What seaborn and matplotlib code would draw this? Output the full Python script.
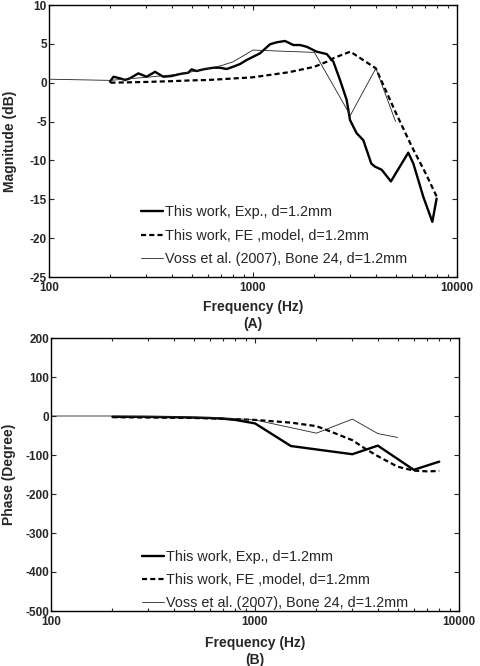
import numpy as np
import pandas as pd
import matplotlib
matplotlib.use("Agg")
import matplotlib.pyplot as plt
from matplotlib.ticker import FixedLocator, FixedFormatter, LogLocator, NullFormatter
import seaborn as sns

# ---------------- data ----------------
# Panel A: magnitude (dB)
exp_mag_f = [199, 207, 223, 236, 249, 274, 301, 331, 363, 399, 438, 482, 500, 529, 571, 639,
             689, 743, 800, 863, 930, 1082, 1211, 1306, 1435, 1577, 1700, 1833, 2052, 2297,
             2477, 2670, 2877, 2989, 3221, 3474, 3800, 3963, 4275, 4742, 5770, 6109, 6840,
             7570, 7945]
exp_mag_db = [0.13, 0.77, 0.56, 0.35, 0.56, 1.2, 0.77, 1.4, 0.77, 0.86, 1.12, 1.29, 1.72, 1.5,
              1.72, 1.93, 1.93, 1.76, 2.06, 2.4, 2.92, 3.78, 4.94, 5.2, 5.37, 4.85, 4.85, 4.63,
              3.99, 3.69, 2.7, 0.35, -2.2, -4.8, -6.5, -7.4, -10.4, -10.8, -11.2, -12.7, -9.0,
              -10.4, -14.7, -17.9, -14.9]

fe_mag_f = [200, 300, 400, 500, 600, 700, 800, 900, 1000, 1500, 2000, 2300, 2500, 3000, 4000,
            5000, 6000, 7000, 8000]
fe_mag_db = [0.0, 0.1, 0.2, 0.3, 0.35, 0.45, 0.55, 0.62, 0.7, 1.35, 2.05, 2.7, 3.2, 4.0, 1.85,
             -3.8, -8.2, -11.6, -14.8]

voss_mag_f = [100, 200, 300, 400, 500, 600, 700, 800, 1000, 2000, 3000, 4000, 5000]
voss_mag_db = [0.45, 0.3, 0.7, 1.0, 1.4, 1.8, 2.2, 2.7, 4.2, 3.9, -4.2, 1.85, -5.0]

# Panel B: phase (degree)
exp_ph_f = [200, 300, 400, 500, 600, 700, 800, 1000, 1500, 3000, 4000, 6000, 8000]
exp_ph_deg = [-2, -2, -3, -4, -5, -7, -10, -19, -77, -98, -76, -138, -117]

fe_ph_f = [200, 300, 500, 700, 1000, 1500, 2000, 2300, 3000, 3500, 4000, 5000, 6000, 7000, 8000]
fe_ph_deg = [-3, -4, -5, -7, -10, -17, -26, -38, -62, -85, -103, -130, -140, -142, -141]

voss_ph_f = [100, 200, 300, 400, 500, 600, 700, 800, 1000, 2000, 3000, 4000, 5000]
voss_ph_deg = [0, 0, -1, -2, -3, -4, -5, -7, -10, -44, -8, -45, -55]

labels = ["This work, Exp., d=1.2mm",
          "This work, FE ,model, d=1.2mm",
          "Voss et al. (2007), Bone 24, d=1.2mm"]

mag_ticks = [-25, -20, -15, -10, -5, 0, 5, 10]
ph_ticks = [-500, -400, -300, -200, -100, 0, 100, 200]
x_ticks = [100, 1000, 10000]
x_ticklabels = ["100", "1000", "10000"]

# ---------------- style ----------------
sns.set_style("ticks")
plt.rcParams["font.family"] = ["Liberation Sans", "DejaVu Sans"]
plt.rcParams["axes.linewidth"] = 1.0

fig = plt.figure(figsize=(4.8, 6.66), dpi=100)
axA = fig.add_axes([49/480, 1-277/666, 408/480, 272/666])
axB = fig.add_axes([51/480, 1-611/666, 408/480, 273/666])

def draw(ax, series, yticks, ylim, ylabel, panel, leg_anchor, ylabelpad, xlabelpad):
    styles = [dict(color="black", linewidth=1.7, linestyle="-"),
              dict(color="black", linewidth=1.6, linestyle=(0, (2.3, 1.4))),
              dict(color="#222222", linewidth=0.6, linestyle="-")]
    for (f, v), lab, st in zip(series, labels, styles):
        df = pd.DataFrame({"f": f, "v": v})
        sns.lineplot(data=df, x="f", y="v", ax=ax, estimator=None, sort=False,
                     label=lab, **st)
    ax.set_xscale("log")
    ax.set_xlim(100, 10000)
    ax.set_ylim(*ylim)
    ax.xaxis.set_major_locator(FixedLocator(x_ticks))
    ax.xaxis.set_major_formatter(FixedFormatter(x_ticklabels))
    ax.xaxis.set_minor_locator(LogLocator(base=10, subs=np.arange(2, 10)))
    ax.xaxis.set_minor_formatter(NullFormatter())
    ax.set_yticks(yticks)
    ax.set_yticklabels([str(t) for t in yticks])
    ax.tick_params(which="both", direction="in", top=True, right=True,
                   labelsize=8.5, pad=1.5, width=0.8)
    ax.tick_params(axis="x", which="major", pad=3.5)
    ax.tick_params(which="major", length=3.5)
    ax.tick_params(which="minor", length=2)
    for lab in ax.get_xticklabels() + ax.get_yticklabels():
        lab.set_fontweight("bold")
    ax.set_xlabel("Frequency (Hz)\n" + panel, fontsize=10, fontweight="bold",
                  labelpad=xlabelpad, linespacing=1.25)
    ax.set_ylabel(ylabel, fontsize=10, fontweight="bold", labelpad=ylabelpad)
    for sp in ax.spines.values():
        sp.set_visible(True)
        sp.set_color("black")
    ax.legend(loc="upper left", bbox_to_anchor=leg_anchor, frameon=False,
              fontsize=10.4, handlelength=1.55, handletextpad=0.15,
              labelspacing=0.64, borderpad=0, borderaxespad=0)

draw(axA, [(exp_mag_f, exp_mag_db), (fe_mag_f, fe_mag_db), (voss_mag_f, voss_mag_db)],
     mag_ticks, (-25, 10), "Magnitude (dB)", "(A)", (0.225, 0.263), 9, 4.5)
draw(axB, [(exp_ph_f, exp_ph_deg), (fe_ph_f, fe_ph_deg), (voss_ph_f, voss_ph_deg)],
     ph_ticks, (-500, 200), "Phase (Degree)", "(B)", (0.222, 0.224), 6.5, 6)

fig.savefig("out.png", dpi=100)
